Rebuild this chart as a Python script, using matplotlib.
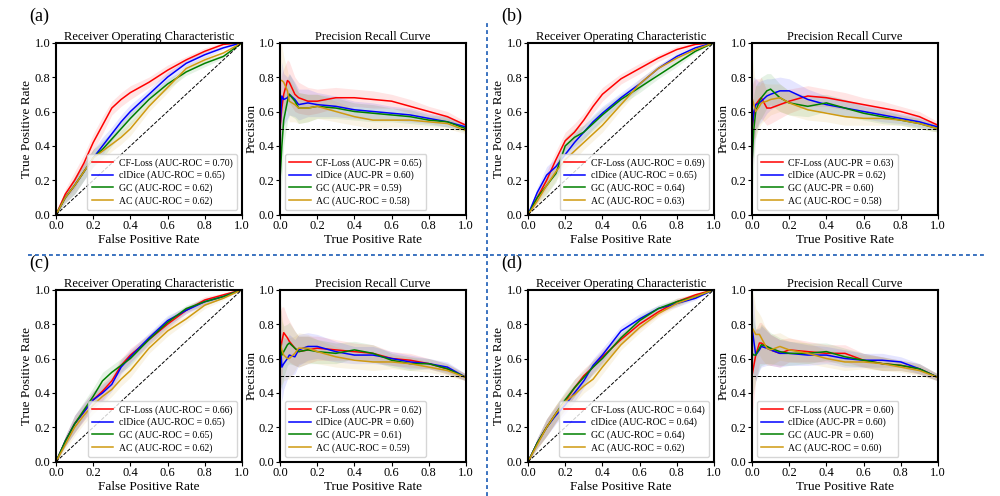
import numpy as np
import matplotlib
import matplotlib.pyplot as plt
from matplotlib.lines import Line2D

matplotlib.use('Agg')
plt.rcParams['font.family'] = ['Liberation Serif', 'DejaVu Serif']

methods = ['CF-Loss', 'clDice', 'GC', 'AC']
colors = ['red', 'blue', 'green', '#cf9a10']

# ROC curves at these false positive rates
fpr = [0, .05, .1, .15, .2, .25, .3, .35, .4, .5, .6, .7, .8, .9, 1.0]
roc_spread = [0, .03, .05, .05, .05, .05, .04, .04, .04, .03, .03, .02, .02, .01, 0]

roc_a_cf = [0, .12, .20, .30, .42, .52, .62, .67, .71, .77, .84, .90, .95, .99, 1.0]
roc_a_cl = [0, .10, .17, .25, .33, .40, .47, .54, .60, .70, .80, .88, .93, .97, 1.0]
roc_a_gc = [0, .10, .17, .25, .33, .38, .44, .50, .56, .67, .76, .83, .88, .92, 1.0]
roc_a_ac = [0, .10, .17, .25, .33, .37, .41, .45, .50, .63, .74, .85, .90, .94, 1.0]

roc_b_cf = [0, .10, .20, .32, .43, .48, .55, .63, .70, .79, .85, .91, .96, .99, 1.0]
roc_b_cl = [0, .13, .23, .28, .35, .42, .48, .54, .59, .68, .76, .85, .92, .97, 1.0]
roc_b_gc = [0, .10, .17, .24, .40, .45, .48, .53, .58, .67, .74, .81, .88, .95, 1.0]
roc_b_ac = [0, .08, .17, .25, .32, .37, .42, .47, .52, .64, .76, .85, .91, .96, 1.0]

roc_c_cf = [0, .12, .22, .29, .36, .41, .47, .56, .62, .71, .80, .88, .94, .97, 1.0]
roc_c_cl = [0, .12, .22, .29, .36, .40, .45, .55, .61, .72, .82, .88, .93, .96, 1.0]
roc_c_gc = [0, .12, .22, .30, .38, .47, .52, .56, .60, .71, .81, .89, .93, .96, 1.0]
roc_c_ac = [0, .10, .20, .27, .33, .38, .42, .48, .53, .66, .76, .83, .91, .95, 1.0]

roc_d_cf = [0, .11, .20, .28, .35, .43, .50, .55, .61, .71, .80, .87, .93, .97, 1.0]
roc_d_cl = [0, .11, .20, .27, .33, .40, .47, .56, .62, .76, .83, .89, .92, .95, 1.0]
roc_d_gc = [0, .11, .20, .28, .36, .43, .49, .55, .60, .72, .82, .89, .93, .96, 1.0]
roc_d_ac = [0, .10, .20, .28, .35, .39, .44, .48, .55, .68, .78, .86, .92, .96, 1.0]

# PR curves at these recall values
recall = [0, .01, .02, .04, .05, .08, .1, .15, .2, .3, .4, .5, .6, .7, .8, .9, 1.0]
pr_spread = [.25, .2, .15, .12, .12, .1, .09, .08, .07, .06, .05, .05, .04, .04, .03, .03, .02]

pr_a_cf = [.50, .62, .70, .78, .77, .70, .68, .66, .66, .68, .68, .67, .66, .63, .60, .57, .52]
pr_a_cl = [.50, .69, .67, .68, .70, .67, .64, .65, .64, .63, .61, .60, .59, .58, .56, .54, .51]
pr_a_gc = [.20, .40, .55, .66, .70, .66, .62, .62, .63, .62, .60, .59, .58, .57, .55, .54, .50]
pr_a_ac = [.78, .78, .77, .72, .66, .64, .62, .62, .63, .60, .57, .55, .55, .55, .54, .53, .49]

pr_b_cf = [.50, .58, .64, .67, .68, .62, .62, .64, .66, .69, .68, .66, .64, .62, .60, .57, .52]
pr_b_cl = [.50, .60, .64, .65, .66, .69, .70, .72, .72, .67, .64, .62, .60, .58, .56, .54, .51]
pr_b_gc = [.30, .50, .60, .66, .68, .72, .73, .68, .65, .63, .65, .62, .59, .57, .55, .53, .50]
pr_b_ac = [.68, .64, .60, .63, .65, .66, .67, .68, .65, .61, .59, .57, .56, .56, .55, .53, .50]

pr_c_cf = [.62, .70, .75, .72, .70, .66, .64, .65, .66, .65, .64, .63, .60, .59, .57, .54, .49]
pr_c_cl = [.72, .55, .57, .60, .62, .61, .65, .67, .67, .64, .62, .62, .60, .58, .57, .55, .49]
pr_c_gc = [.70, .62, .64, .68, .69, .66, .64, .65, .64, .63, .65, .63, .59, .57, .57, .54, .49]
pr_c_ac = [.70, .65, .62, .60, .60, .63, .66, .66, .64, .61, .59, .58, .58, .57, .55, .53, .49]

pr_d_cf = [.50, .56, .62, .69, .69, .67, .65, .63, .65, .64, .63, .63, .59, .57, .56, .54, .49]
pr_d_cl = [.78, .70, .62, .65, .67, .66, .65, .63, .63, .62, .62, .60, .59, .59, .58, .54, .49]
pr_d_gc = [.63, .62, .62, .66, .68, .67, .66, .64, .63, .63, .64, .61, .59, .57, .56, .54, .49]
pr_d_ac = [.78, .76, .74, .74, .72, .66, .65, .67, .65, .63, .60, .58, .58, .57, .55, .53, .49]

auc_roc_a = [0.70, 0.65, 0.62, 0.62]
auc_roc_b = [0.69, 0.65, 0.64, 0.63]
auc_roc_c = [0.66, 0.65, 0.65, 0.62]
auc_roc_d = [0.64, 0.64, 0.64, 0.62]
auc_pr_a = [0.65, 0.60, 0.59, 0.58]
auc_pr_b = [0.63, 0.62, 0.60, 0.58]
auc_pr_c = [0.62, 0.60, 0.61, 0.59]
auc_pr_d = [0.60, 0.60, 0.60, 0.60]
# the original figure labels AC with "AUC-ROC" in the PR legends too
pr_tags = ['AUC-PR', 'AUC-PR', 'AUC-PR', 'AUC-ROC']

panels = [
    ('(a)', [roc_a_cf, roc_a_cl, roc_a_gc, roc_a_ac], auc_roc_a,
     [pr_a_cf, pr_a_cl, pr_a_gc, pr_a_ac], auc_pr_a),
    ('(b)', [roc_b_cf, roc_b_cl, roc_b_gc, roc_b_ac], auc_roc_b,
     [pr_b_cf, pr_b_cl, pr_b_gc, pr_b_ac], auc_pr_b),
    ('(c)', [roc_c_cf, roc_c_cl, roc_c_gc, roc_c_ac], auc_roc_c,
     [pr_c_cf, pr_c_cl, pr_c_gc, pr_c_ac], auc_pr_c),
    ('(d)', [roc_d_cf, roc_d_cl, roc_d_gc, roc_d_ac], auc_roc_d,
     [pr_d_cf, pr_d_cl, pr_d_gc, pr_d_ac], auc_pr_d),
]

# axes boxes in figure fractions: roc left, pr left, bottom
boxes = [(0.056, 0.280, 0.567), (0.528, 0.752, 0.567),
         (0.056, 0.280, 0.069), (0.528, 0.752, 0.069)]
W, H = 0.186, 0.347

fig = plt.figure(figsize=(10, 4.96), dpi=100)


def style(ax, title, xlabel, ylabel):
    ax.set_xlim(0, 1)
    ax.set_ylim(0, 1)
    ax.set_xticks(np.arange(0, 1.01, 0.2))
    ax.set_yticks(np.arange(0, 1.01, 0.2))
    ax.tick_params(labelsize=9, length=3, width=0.8, pad=1)
    for s in ax.spines.values():
        s.set_linewidth(1.5)
    ax.set_title(title, fontsize=9, pad=1.5)
    ax.set_xlabel(xlabel, fontsize=9.5, labelpad=1)
    ax.set_ylabel(ylabel, fontsize=9.5, labelpad=1)


for (tag, rocs, roc_auc, prs, pr_auc), (xl, xp, yb) in zip(panels, boxes):
    ax = fig.add_axes([xl, yb, W, H])
    for y, c, m, a in zip(rocs, colors, methods, roc_auc):
        y = np.array(y)
        sp = np.array(roc_spread)
        ax.fill_between(fpr, np.clip(y - sp, 0, 1), np.clip(y + sp, 0, 1),
                        color=c, alpha=0.1, lw=0)
        ax.plot(fpr, y, color=c, lw=1.1, label=f'{m} (AUC-ROC = {a:.2f})')
    ax.plot([0, 1], [0, 1], 'k--', lw=0.7)
    style(ax, 'Receiver Operating Characteristic', 'False Positive Rate', 'True Positive Rate')
    ax.legend(loc='lower right', fontsize=7, handlelength=2.2, borderpad=0.45,
              labelspacing=0.3, handletextpad=0.6)
    ax.text(-0.145, 1.1, tag, transform=ax.transAxes, fontsize=13, va='bottom')

    ax = fig.add_axes([xp, yb, W, H])
    for y, c, m, a, t in zip(prs, colors, methods, pr_auc, pr_tags):
        y = np.array(y)
        sp = np.array(pr_spread)
        ax.fill_between(recall, np.clip(y - sp, 0, 1), np.clip(y + sp, 0, 1),
                        color=c, alpha=0.1, lw=0)
        ax.plot(recall, y, color=c, lw=1.1, label=f'{m} ({t} = {a:.2f})')
    ax.axhline(0.5, color='k', ls='--', lw=0.7)
    style(ax, 'Precision Recall Curve', 'True Positive Rate', 'Precision')
    ax.legend(loc='lower left', fontsize=7, handlelength=2.2, borderpad=0.45,
              labelspacing=0.3, handletextpad=0.6)

# blue dashed separators between the four panels
sep = dict(color='#3b73c0', lw=1.4, ls=(0, (2, 1.6)), transform=fig.transFigure)
fig.add_artist(Line2D([0.487, 0.487], [0.0, 0.96], **sep))
fig.add_artist(Line2D([0.028, 0.985], [0.486, 0.486], **sep))

fig.savefig('out.png', dpi=100)
